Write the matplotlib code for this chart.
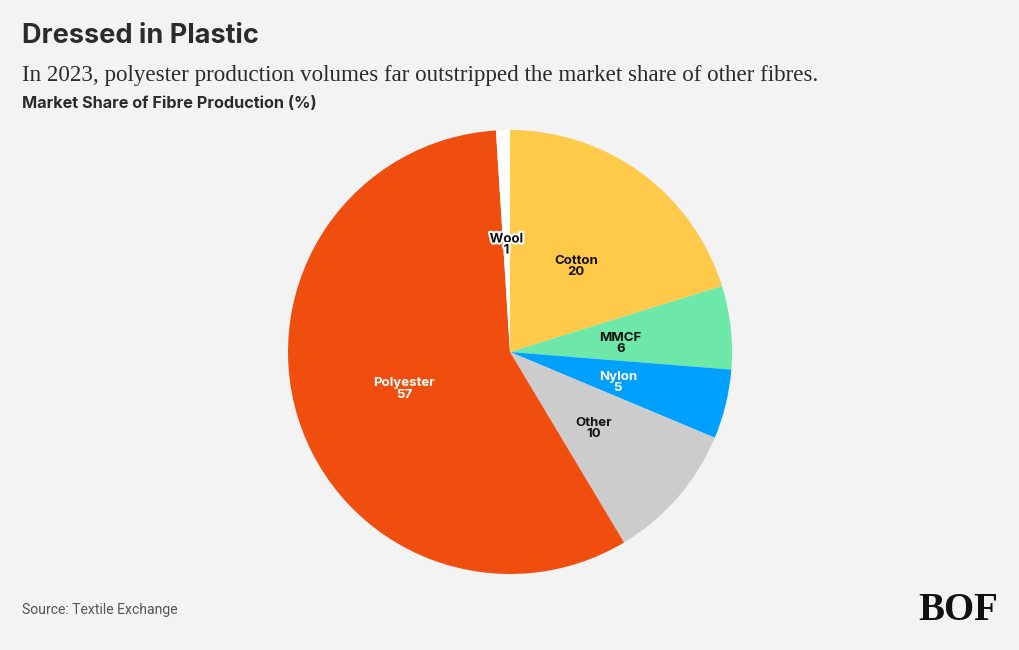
import matplotlib.pyplot as plt
import matplotlib.patheffects as pe

fibres = ["Cotton", "MMCF", "Nylon", "Other", "Polyester", "Wool"]
shares = [20, 6, 5, 10, 57, 1]
colors = ["#FFC94A", "#6DE8A8", "#00A0FF", "#CCCCCC", "#F04E0F", "#FFFFFF"]
label_colors = ["#111111", "#111111", "#FFFFFF", "#111111", "#FFFFFF", "#111111"]

bg = "#F3F3F3"
fig = plt.figure(figsize=(10.2, 6.5), dpi=100, facecolor=bg)

# pie axes: centre (510, 352) px, radius ~222 px
ax = fig.add_axes([(510 - 222) / 1020, (650 - 352 - 222) / 650, 444 / 1020, 444 / 650])
ax.set_facecolor(bg)

labels = [f"{f}\n{v}" for f, v in zip(fibres, shares)]
wedges, texts = ax.pie(shares, colors=colors, startangle=90, counterclock=False,
                       labels=labels, labeldistance=0.5,
                       wedgeprops=dict(linewidth=0),
                       textprops=dict(fontsize=9.5, fontweight="bold", family="Inter",
                                      ha="center", va="center", linespacing=0.9))
for t, c in zip(texts, label_colors):
    t.set_color(c)
    x, y = t.get_position()
    t.set_position((x, y - 0.018))
texts[-1].set_path_effects([pe.withStroke(linewidth=3, foreground="white")])
ax.set_xlim(-1, 1)
ax.set_ylim(-1, 1)
ax.set_aspect("equal")

fig.text(22 / 1020, 1 - 36 / 650, "Dressed in Plastic", fontsize=19.5, fontweight="bold",
         family="Inter", color="#2B2B2B", va="center")
fig.text(22 / 1020, 1 - 75 / 650,
         "In 2023, polyester production volumes far outstripped the market share of other fibres.",
         fontsize=16.6, family="Liberation Serif", color="#2B2B2B", va="center")
fig.text(22 / 1020, 1 - 103 / 650, "Market Share of Fibre Production (%)", fontsize=11.7,
         fontweight="bold", family="Inter", color="#2B2B2B", va="center")
fig.text(22 / 1020, 1 - 610 / 650, "Source: Textile Exchange", fontsize=10.1,
         family="Roboto", color="#555555", va="center")
fig.text(998 / 1020, 1 - 610 / 650, "BOF", fontsize=28, fontweight="bold",
         family="Liberation Serif", color="#111111", ha="right", va="center")

fig.savefig("out.png", dpi=100, facecolor=bg)
